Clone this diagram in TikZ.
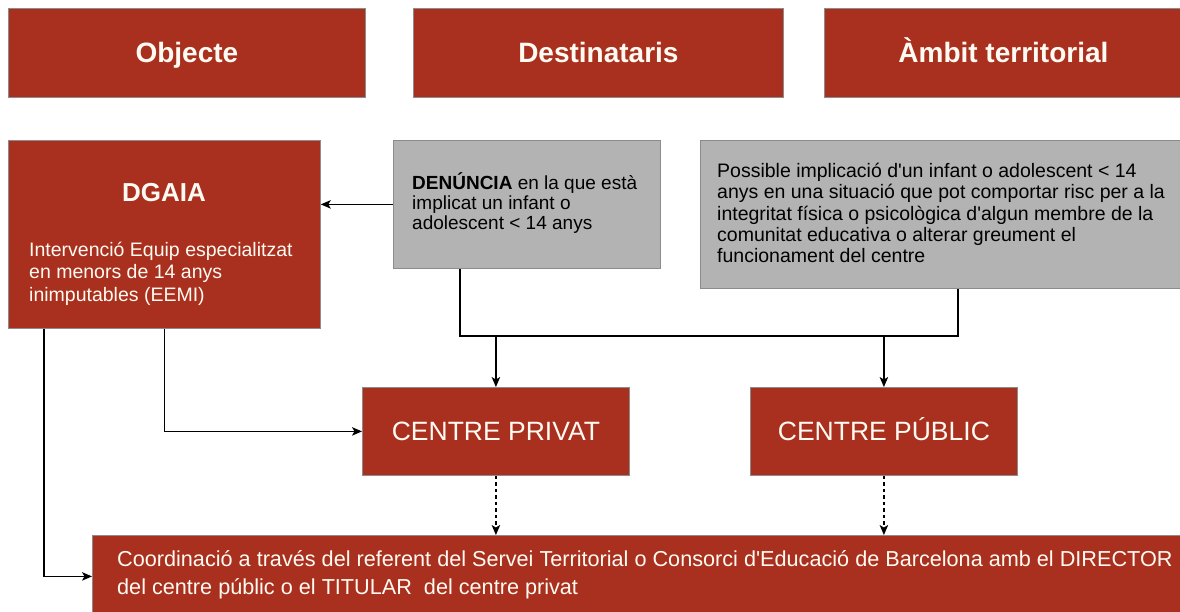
\documentclass[tikz,border=0pt]{standalone}
\usepackage{fontspec}
\setmainfont{Liberation Sans}[Ligatures=TeXOff]
\usetikzlibrary{arrows.meta}
\definecolor{boxred}{RGB}{169,48,31}
\definecolor{boxgray}{RGB}{179,179,179}
\definecolor{edgegray}{RGB}{140,140,140}
\definecolor{paletext}{RGB}{255,251,242}
\begin{document}
\begin{tikzpicture}[x=1pt,y=-1pt,
  redbox/.style={rectangle, draw=edgegray, line width=0.8pt, fill=boxred, inner sep=0pt, anchor=north west, text=paletext},
  graybox/.style={rectangle, draw=edgegray, line width=0.8pt, fill=boxgray, inner sep=0pt, anchor=north west},
  head/.style={font=\fontsize{28}{30}\selectfont\bfseries, text height=20pt, text depth=0pt},
  centrefont/.style={font=\fontsize{26.5}{28}\selectfont, text height=19pt, text depth=0pt},
  txt/.style={inner sep=0pt, anchor=base west},
  conn/.style={line width=1.2pt, draw=black},
  arr/.style={conn, -{Stealth[length=10pt, width=8.5pt, inset=2.5pt]}},
  darr/.style={arr, dash pattern=on 3.5pt off 3pt},
]
\useasboundingbox (0,0) rectangle (1180,612);
\fill[white] (0,0) rectangle (1180,612);

% header row
\node[redbox, head, minimum width=357pt, minimum height=89pt] (obj) at (8,8) {Objecte};
\node[redbox, head, minimum width=370pt, minimum height=89pt] (dest) at (413,8) {Destinataris};
\node[redbox, head, minimum width=358pt, minimum height=89pt] (amb) at (824,8) {Àmbit territorial};

% DGAIA
\node[redbox, minimum width=312pt, minimum height=188pt] (dgaia) at (8,140) {};
\node[inner sep=0pt, anchor=base, text=paletext, font=\fontsize{26}{28}\selectfont\bfseries] (dgaiat) at (164,201.7) {DGAIA};
\node[txt, text=paletext] (dgaiab) at (29,256.5) {\parbox[t]{290pt}{\fontsize{19.5}{22.5}\selectfont\raggedright Intervenció Equip especialitzat\\ en menors de 14 anys\\ inimputables (EEMI)}};

% gray boxes
\node[graybox, minimum width=267pt, minimum height=128pt] (den) at (393,140) {};
\node[txt] (dent) at (412,190) {\parbox[t]{245pt}{\fontsize{19}{20}\selectfont\raggedright {\bfseries DENÚNCIA} en la que està\\ implicat un infant o\\ adolescent < 14 anys}};

\node[graybox, minimum width=490pt, minimum height=148pt] (pos) at (700,140) {};
\node[txt] (post) at (717,177.5) {\parbox[t]{470pt}{\fontsize{19.5}{21.3}\selectfont\raggedright Possible implicació d'un infant o adolescent < 14\\ anys en una situació que pot comportar risc per a la\\ integritat física o psicològica d'algun membre de la\\ comunitat educativa o alterar greument el\\ funcionament del centre}};

% centres
\node[redbox, centrefont, minimum width=267pt, minimum height=88pt] (priv) at (362,387) {CENTRE PRIVAT};
\node[redbox, centrefont, minimum width=267pt, minimum height=88pt] (pub) at (750,387) {CENTRE PÚBLIC};

% bottom box
\node[redbox, minimum width=1100pt, minimum height=82pt] (bot) at (92,535) {};
\node[txt, text=paletext] (bott) at (117,566.5) {\parbox[t]{1070pt}{\fontsize{21.65}{27.5}\selectfont\raggedright Coordinació a través del referent del Servei Territorial o Consorci d'Educació de Barcelona amb el DIRECTOR\\ del centre públic o el TITULAR\ \ del centre privat}};

% connectors
\coordinate (jl) at (460,336);
\coordinate (jr) at (958,336);
\coordinate (dl) at (44,0);
\draw[conn] (den.south -| jl) -- (jl) -- (jr) -- (pos.south -| jr);
\draw[arr] (priv.north |- jl) -- (priv.north);
\draw[arr] (pub.north |- jl) -- (pub.north);
\draw[arr] (den.west) -- (den.west -| dgaia.east);
\draw[arr] (dgaia.south) |- (priv.west);
\draw[arr] (dgaia.south -| dl) |- (bot.west);
\draw[darr] (priv.south) -- (priv.south |- bot.north);
\draw[darr] (pub.south) -- (pub.south |- bot.north);
\end{tikzpicture}
\end{document}
